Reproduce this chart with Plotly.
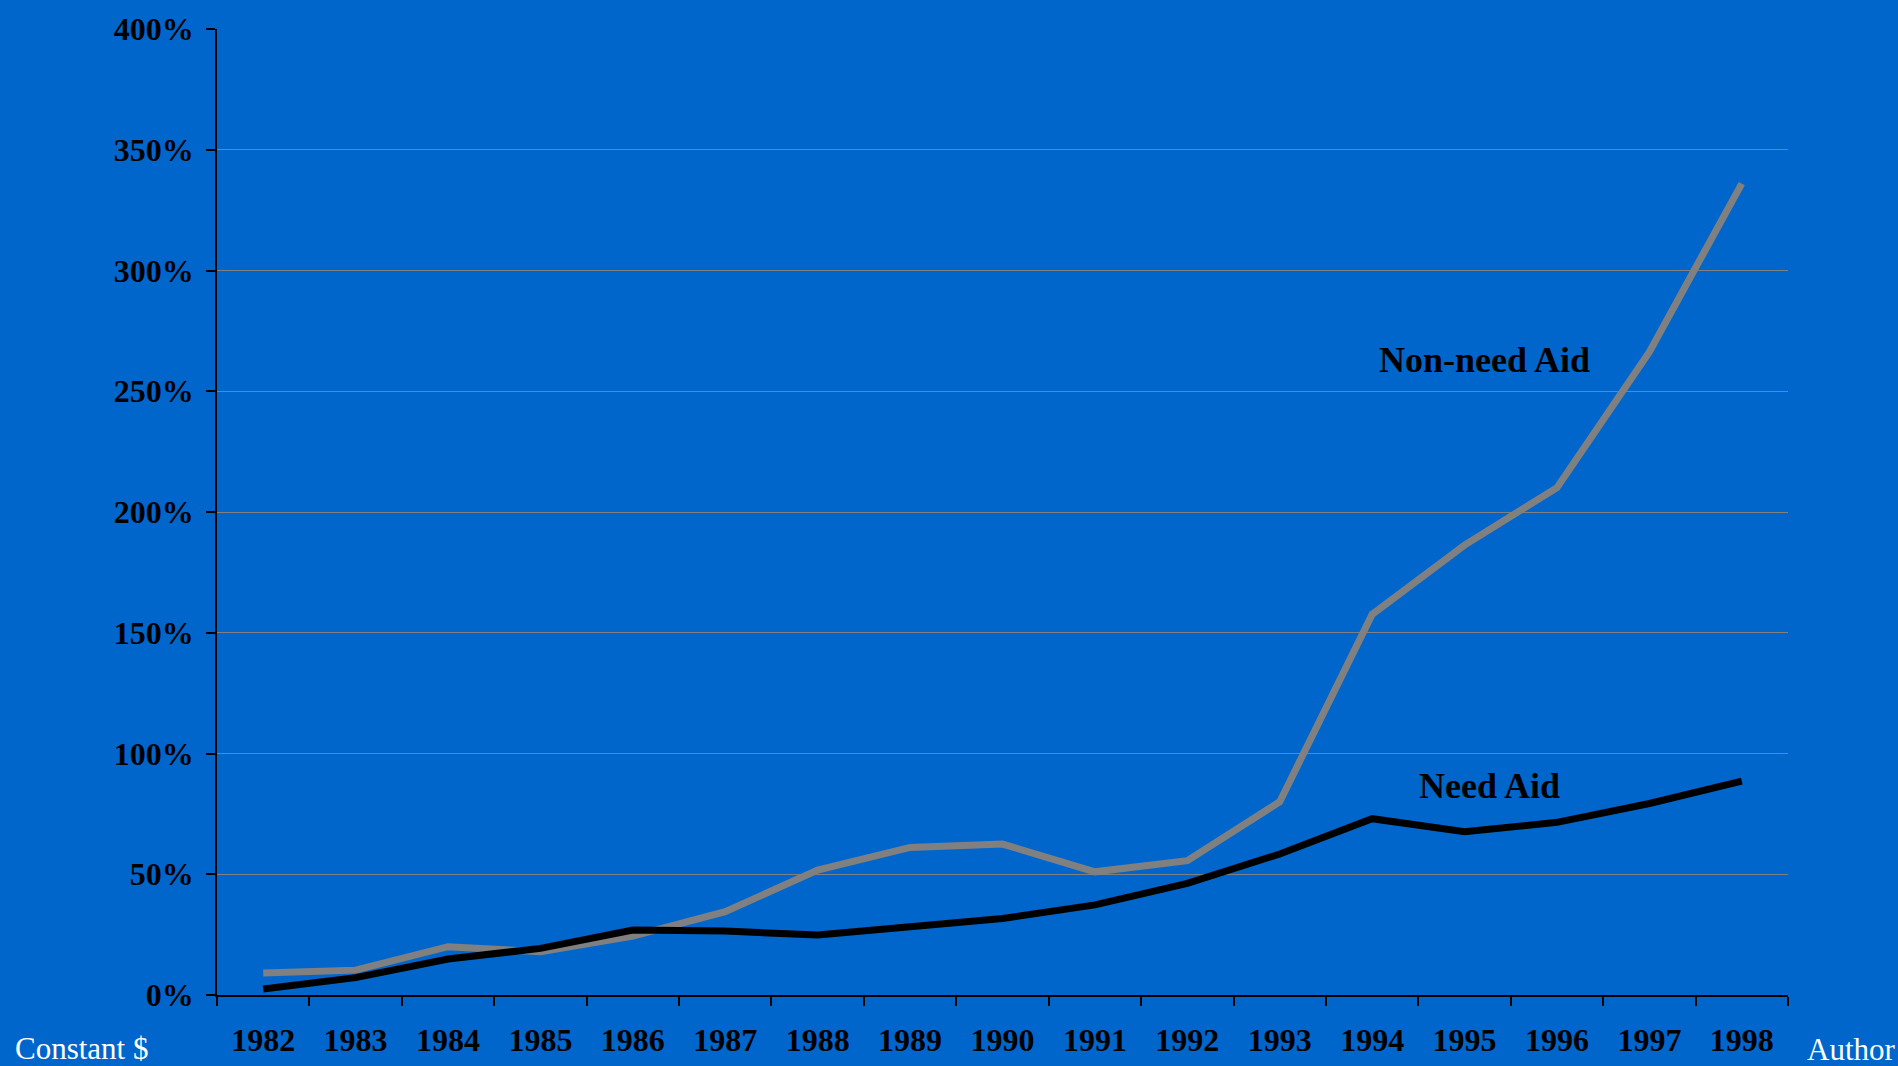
import plotly.graph_objects as go

years = ["1982", "1983", "1984", "1985", "1986", "1987", "1988", "1989", "1990",
         "1991", "1992", "1993", "1994", "1995", "1996", "1997", "1998"]
need_aid = [2.5, 7.2, 14.9, 19.3, 26.9, 26.5, 24.8, 28.0, 31.7, 37.3, 46.2,
            58.4, 73.0, 67.6, 71.5, 79.3, 88.6]
non_need_aid = [9.1, 10.3, 20.0, 17.9, 24.4, 34.5, 51.7, 61.1, 62.5, 51.0, 55.6,
                80.0, 157.6, 186.3, 210.1, 266.3, 336.0]
y_ticks = [0, 50, 100, 150, 200, 250, 300, 350, 400]

BG = "#0066CC"
SERIF = "Liberation Serif, Times New Roman, serif"

W, H = 1898, 1066
ML, MR, MT, MB = 217, 110, 29, 71
PW, PH = W - ML - MR, H - MT - MB

fig = go.Figure()
fig.add_trace(go.Scatter(x=years, y=non_need_aid, mode="lines", name="Non-need Aid",
                         line=dict(color="#808080", width=7)))
fig.add_trace(go.Scatter(x=years, y=need_aid, mode="lines", name="Need Aid",
                         line=dict(color="#000000", width=7)))

fig.update_layout(
    width=W, height=H,
    paper_bgcolor=BG, plot_bgcolor=BG,
    margin=dict(l=ML, r=MR, t=MT, b=MB),
    showlegend=False,
    font=dict(family=SERIF, color="black"),
)
fig.update_xaxes(
    type="category", range=[-0.5, 16.5], automargin=False,
    showline=True, linecolor="black", linewidth=1.5,
    ticks="outside", tickson="boundaries", ticklen=9, tickcolor="black", tickwidth=1.5,
    showgrid=False,
    tickfont=dict(family=SERIF, size=32, color="black", weight=700),
    ticklabelstandoff=16,
)
fig.update_yaxes(
    range=[0, 400], tickvals=y_ticks, ticktext=[f"{v}%" for v in y_ticks],
    automargin=False,
    showline=True, linecolor="black", linewidth=1.5,
    ticks="outside", ticklen=9, tickcolor="black", tickwidth=1.5,
    showgrid=True, gridcolor="#808080", gridwidth=1.2,
    zeroline=False,
    tickfont=dict(family=SERIF, size=32, color="black", weight=700),
    ticklabelstandoff=6,
)

fig.add_annotation(x=12.05, y=263, xref="x", yref="y", text="Non-need Aid",
                   showarrow=False, xanchor="left", yanchor="middle",
                   font=dict(family=SERIF, size=36, color="black", weight=700))
fig.add_annotation(x=12.48, y=86.5, xref="x", yref="y", text="Need Aid",
                   showarrow=False, xanchor="left", yanchor="middle",
                   font=dict(family=SERIF, size=36, color="black", weight=700))
fig.add_annotation(x=(13 - ML) / PW, y=(H - 1048 - MB) / PH, xref="paper", yref="paper",
                   text="Constant $", showarrow=False, xanchor="left", yanchor="middle",
                   font=dict(family=SERIF, size=31, color="white"))
fig.add_annotation(x=(1805 - ML) / PW, y=(H - 1049 - MB) / PH, xref="paper", yref="paper",
                   text="Author", showarrow=False, xanchor="left", yanchor="middle",
                   font=dict(family=SERIF, size=31, color="white"))

fig.write_html(
    "out.html",
    config={"displayModeBar": False},
    post_script="document.body.style.margin='0';document.body.style.overflow='hidden';"
                "document.documentElement.style.background='%s';" % BG,
)
